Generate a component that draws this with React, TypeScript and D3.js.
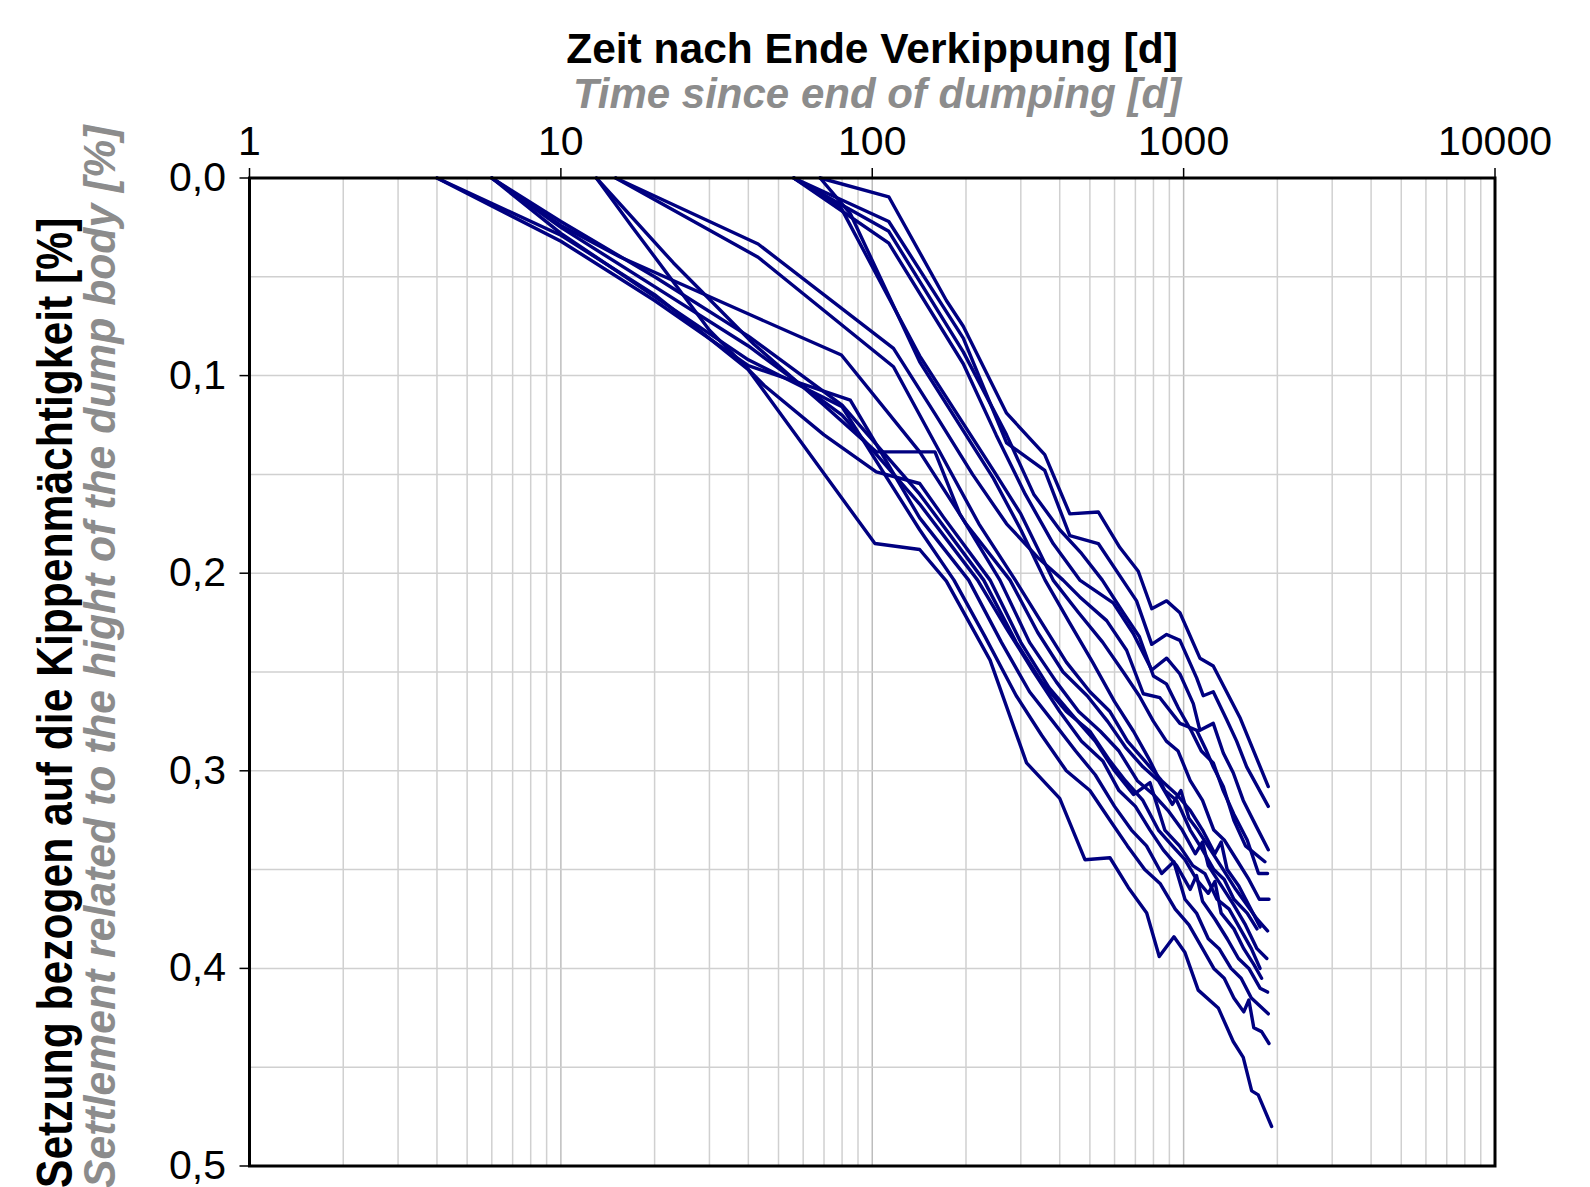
import React from "react";
import * as d3 from "d3";

// ---- Data: time since end of dumping [d] vs. settlement [%] ----
const xTickValues = [1, 10, 100, 1000, 10000];
const xTickLabels = ["1", "10", "100", "1000", "10000"];
const yTickValues = [0, 0.1, 0.2, 0.3, 0.4, 0.5];
const yTickLabels = ["0,0", "0,1", "0,2", "0,3", "0,4", "0,5"];

const titleX = "Zeit nach Ende Verkippung [d]";
const titleXen = "Time since end of dumping [d]";
const titleY = "Setzung bezogen auf die Kippenmächtigkeit [%]";
const titleYen = "Settlement related to the hight of the dump body [%]";

type P = [number, number];

const seriesU1: P[] = [[68,0],[113,0.0095],[173,0.062],[196,0.075],[270,0.119],[358,0.140],[431,0.170],[532,0.169],[624,0.187],[715,0.199],[790,0.218],[882,0.214],[973,0.220],[1128,0.243],[1245,0.247],[1516,0.273],[1870,0.308]];
const seriesU2: P[] = [[56,0],[113,0.022],[196,0.081],[270,0.134],[358,0.148],[431,0.181],[532,0.185],[706,0.214],[790,0.236],[882,0.231],[973,0.234],[1101,0.253],[1156,0.262],[1245,0.260],[1374,0.274],[1480,0.285],[1594,0.298],[1870,0.318]];
const seriesU3: P[] = [[56,0],[113,0.027],[196,0.088],[270,0.13],[330,0.16],[400,0.178],[470,0.19],[548,0.2035],[640,0.22],[720,0.232],[800,0.252],[880,0.256],[960,0.268],[1060,0.28],[1140,0.29],[1245,0.296],[1340,0.31],[1450,0.322],[1600,0.335],[1740,0.352],[1860,0.352]];
const seriesU4: P[] = [[56,0],[113,0.033],[196,0.094],[250,0.13],[310,0.16],[381,0.185],[464,0.2035],[594,0.215],[689,0.2305],[790,0.249],[882,0.243],[973,0.251],[1074,0.266],[1128,0.2795],[1245,0.276],[1341,0.291],[1443,0.301],[1554,0.315],[1716,0.3285],[1870,0.340]];
const seriesS1: P[] = [[56,0],[79,0.0145],[142,0.09],[245,0.148],[300,0.17],[381,0.2035],[460,0.22],[550,0.235],[640,0.25],[720,0.262],[800,0.275],[880,0.285],[960,0.29],[1050,0.305],[1150,0.315],[1250,0.33],[1350,0.335],[1480,0.345],[1620,0.355],[1750,0.365],[1880,0.365]];
const seriesS2: P[] = [[68,0],[85,0.018],[142,0.093],[245,0.152],[300,0.178],[359,0.2035],[430,0.225],[510,0.245],[600,0.265],[690,0.28],[780,0.295],[870,0.31],[950,0.315],[1050,0.33],[1150,0.34],[1250,0.35],[1350,0.355],[1450,0.365],[1600,0.372],[1720,0.38]];
const seriesL1: P[] = [[15,0],[43,0.0334],[117,0.0862],[160,0.12],[210,0.15],[270,0.175],[340,0.192],[410,0.2035],[464,0.212],[566,0.224],[656,0.239],[742,0.261],[839,0.263],[973,0.276],[1101,0.2795],[1185,0.29],[1245,0.298],[1341,0.308],[1450,0.325],[1580,0.338],[1824,0.346]];
const seriesL2: P[] = [[15,0],[43,0.0401],[117,0.0955],[160,0.135],[220,0.175],[288,0.2035],[350,0.225],[420,0.245],[500,0.26],[580,0.27],[660,0.285],[750,0.295],[850,0.305],[950,0.312],[1050,0.32],[1150,0.33],[1260,0.342],[1320,0.336],[1380,0.35],[1500,0.358],[1620,0.368],[1760,0.379]];
const seriesA1: P[] = [[4,0],[10,0.029],[20,0.059],[40,0.097],[102,0.185],[142,0.188],[173,0.204],[239,0.244],[313,0.296],[400,0.314],[482,0.345],[580,0.344],[664,0.359],[761,0.372],[835,0.394],[931,0.384],[1010,0.392],[1114,0.411],[1292,0.420],[1443,0.437],[1554,0.445],[1654,0.462],[1736,0.464],[1917,0.480]];
const seriesA2: P[] = [[4,0],[10,0.032],[20,0.062],[40,0.095],[85,0.1124],[142,0.172],[204,0.2035],[260,0.235],[320,0.26],[380,0.275],[450,0.29],[520,0.302],[600,0.318],[680,0.33],[760,0.338],[850,0.352],[930,0.346],[1010,0.365],[1100,0.372],[1200,0.385],[1300,0.39],[1420,0.40],[1530,0.405],[1650,0.415],[1870,0.423]];
const seriesB1: P[] = [[6,0],[10,0.024],[15.5,0.04],[41.6,0.07],[79.6,0.0896],[142,0.1386],[200,0.175],[277,0.2035],[340,0.23],[410,0.25],[490,0.262],[570,0.275],[650,0.288],[740,0.298],[830,0.305],[920,0.317],[980,0.31],[1040,0.324],[1110,0.33],[1220,0.34],[1340,0.35],[1470,0.36],[1600,0.368],[1720,0.375],[1860,0.381]];
const seriesB2: P[] = [[6,0],[10,0.025],[20,0.055],[40,0.085],[80,0.12],[142,0.165],[218,0.2035],[270,0.228],[330,0.25],[400,0.27],[470,0.285],[550,0.295],[620,0.31],[700,0.318],[780,0.33],[860,0.34],[950,0.348],[1050,0.36],[1100,0.353],[1150,0.366],[1260,0.375],[1380,0.385],[1500,0.395],[1620,0.40],[1760,0.41],[1860,0.412]];
const seriesB3: P[] = [[6,0],[10,0.028],[20,0.06],[40,0.092],[80,0.1158],[142,0.178],[183,0.2035],[230,0.232],[290,0.262],[350,0.282],[420,0.30],[500,0.31],[580,0.325],[660,0.338],[750,0.35],[840,0.357],[940,0.37],[1040,0.378],[1150,0.39],[1250,0.40],[1350,0.405],[1450,0.415],[1560,0.422],[1620,0.416],[1680,0.43],[1780,0.432],[1880,0.438]];
const seriesB4: P[] = [[6,0],[10,0.022],[20,0.05],[40,0.08],[80,0.115],[142,0.16],[228,0.2035],[290,0.235],[350,0.255],[420,0.27],[500,0.28],[580,0.295],[650,0.305],[740,0.315],[830,0.33],[920,0.338],[1010,0.345],[1100,0.355],[1200,0.362],[1260,0.356],[1320,0.372],[1450,0.38],[1560,0.39],[1680,0.398],[1780,0.405]];
const seriesC1: P[] = [[13,0],[23,0.043],[29.4,0.06],[41.6,0.084],[70,0.115],[103,0.1386],[159,0.1386],[191,0.17],[257,0.2035],[320,0.235],[390,0.255],[460,0.27],[540,0.28],[620,0.29],[710,0.305],[800,0.312],[890,0.32],[990,0.33],[1090,0.342],[1150,0.336],[1200,0.348],[1320,0.358],[1450,0.368],[1580,0.378],[1720,0.39],[1850,0.395]];
const seriesC2: P[] = [[13,0],[17,0.025],[30,0.077],[45,0.105],[70,0.13],[103,0.1487],[142,0.1546],[170,0.172],[239,0.2035],[300,0.235],[370,0.258],[440,0.272],[520,0.285],[600,0.3],[690,0.312],[780,0.306],[870,0.33],[970,0.338],[1070,0.348],[1170,0.352],[1280,0.365],[1400,0.37],[1520,0.38],[1650,0.39],[1760,0.40]];

const allSeries: P[][] = [
  seriesU1, seriesU2, seriesU3, seriesU4, seriesS1, seriesS2, seriesL1, seriesL2,
  seriesA1, seriesA2, seriesB1, seriesB2, seriesB3, seriesB4, seriesC1, seriesC2,
];

const W = 1590;
const H = 1187;
const left = 249.5;
const right = 1495;
const top = 178;
const bottom = 1166;
const FONT = "'Liberation Sans', Arial, Helvetica, sans-serif";

export default function App() {
  const x = d3.scaleLog().domain([1, 10000]).range([left, right]);
  const y = d3.scaleLinear().domain([0, 0.5]).range([top, bottom]);

  const minorX: number[] = [];
  for (let k = 0; k < 4; k++) {
    for (let m = 1; m <= 9; m++) {
      const v = m * Math.pow(10, k);
      if (v > 1 && v < 10000) minorX.push(v);
    }
  }
  const gridY = d3.range(1, 10).map((i) => i * 0.05);

  const line = d3
    .line<P>()
    .x((d) => x(d[0]))
    .y((d) => y(d[1]));

  return (
    <svg
      width={W}
      height={H}
      style={{ position: "absolute", left: 0, top: 0, background: "#fff" }}
      fontFamily={FONT}
    >
      <rect x={0} y={0} width={W} height={H} fill="#fff" />
      {/* grid */}
      {minorX.map((v) => (
        <line
          key={"gx" + v}
          x1={x(v)}
          x2={x(v)}
          y1={top}
          y2={bottom}
          stroke={xTickValues.includes(v) ? "#bdbdbd" : "#d0d0d0"}
          strokeWidth={1.5}
        />
      ))}
      {gridY.map((v) => (
        <line
          key={"gy" + v}
          x1={left}
          x2={right}
          y1={y(v)}
          y2={y(v)}
          stroke="#d0d0d0"
          strokeWidth={1.5}
        />
      ))}
      {/* series */}
      <g fill="none" stroke="#000080" strokeWidth={3.4} strokeLinejoin="round" strokeLinecap="round">
        {allSeries.map((s, i) => (
          <path key={i} d={line(s) || ""} />
        ))}
      </g>
      {/* frame */}
      <rect x={left} y={top} width={right - left} height={bottom - top} fill="none" stroke="#000" strokeWidth={3} />
      {/* x ticks */}
      {xTickValues.map((v, i) => (
        <g key={"xt" + v}>
          <line x1={x(v)} x2={x(v)} y1={top} y2={top - 10} stroke="#000" strokeWidth={1.5} />
          <text x={x(v)} y={155} textAnchor="middle" fontSize={41} fill="#000">
            {xTickLabels[i]}
          </text>
        </g>
      ))}
      {/* y ticks */}
      {yTickValues.map((v, i) => (
        <g key={"yt" + v}>
          <line x1={left - 10} x2={left} y1={y(v)} y2={y(v)} stroke="#000" strokeWidth={1.5} />
          <text x={226} y={y(v) + 13} textAnchor="end" fontSize={41} fill="#000">
            {yTickLabels[i]}
          </text>
        </g>
      ))}
      {/* titles */}
      <text x={872} y={63} textAnchor="middle" fontSize={42.5} fontWeight="bold" fill="#000">
        {titleX}
      </text>
      <text x={877} y={108} textAnchor="middle" fontSize={42} fontWeight="bold" fontStyle="italic" fill="#8c8c8c">
        {titleXen}
      </text>
      <text
        transform="translate(72,1188) rotate(-90) scale(1,1.17)"
        textAnchor="start"
        fontSize={42.6}
        fontWeight="bold"
        fill="#000"
      >
        {titleY}
      </text>
      <text
        transform="translate(115,1188) rotate(-90) scale(1,1.05)"
        textAnchor="start"
        fontSize={42.7}
        fontWeight="bold"
        fontStyle="italic"
        fill="#8c8c8c"
      >
        {titleYen}
      </text>
    </svg>
  );
}
